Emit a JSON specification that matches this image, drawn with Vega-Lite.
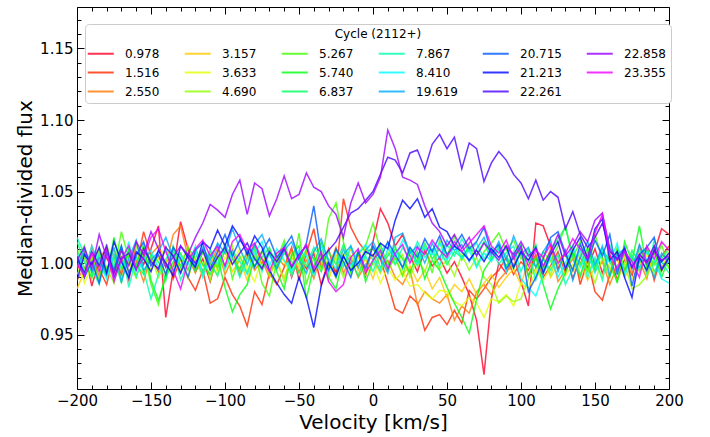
{
"$schema": "https://vega.github.io/schema/vega-lite/v6.json",
"width": 592, "height": 382,
"autosize": {"type": "none"},
"padding": {"left": 77, "top": 7, "right": 41, "bottom": 48},
"config": {"view": {"stroke": "black", "strokeWidth": 1}, "font": "DejaVu Sans",
  "axis": {"grid": false, "domain": false, "tickColor": "black", "labelColor": "black", "titleColor": "black", "labelFontSize": 15, "titleFontSize": 20, "titleFontWeight": "normal", "labelFlush": false, "labelOverlap": false}},
"data": {"values": [
{"v":-200,"a":0.995,"b":1.003,"c":0.988,"d":0.982,"e":1.006,"f":0.992,"g":1.010,"h":1.002,"i":1.015,"j":1.018,"k":1.008,"l":0.997,"m":1.005,"n":0.988,"o":1.004,"p":1.002,"q":1.000},
{"v":-195,"a":1.008,"b":0.990,"c":0.997,"d":0.994,"e":0.986,"f":1.004,"g":0.996,"h":1.012,"i":1.001,"j":1.006,"k":0.993,"l":1.010,"m":0.990,"n":1.006,"o":0.993,"p":1.011,"q":0.991},
{"v":-190,"a":0.984,"b":1.012,"c":1.005,"d":1.003,"e":0.998,"f":0.989,"g":1.004,"h":0.993,"i":0.990,"j":0.996,"k":1.012,"l":0.994,"m":1.001,"n":0.999,"o":1.008,"p":0.996,"q":1.007},
{"v":-185,"a":1.002,"b":0.996,"c":0.991,"d":1.009,"e":1.003,"f":1.011,"g":0.988,"h":1.000,"i":1.007,"j":0.985,"k":1.000,"l":1.004,"m":0.986,"n":1.011,"o":0.998,"p":1.020,"q":0.994},
{"v":-180,"a":1.011,"b":0.985,"c":1.004,"d":0.993,"e":0.992,"f":0.997,"g":1.013,"h":0.991,"i":0.996,"j":1.008,"k":0.989,"l":0.992,"m":1.008,"n":0.993,"o":1.012,"p":1.004,"q":1.009},
{"v":-175,"a":0.993,"b":1.006,"c":0.996,"d":1.002,"e":1.010,"f":0.986,"g":0.995,"h":1.018,"i":1.004,"j":0.998,"k":1.006,"l":1.011,"m":0.995,"n":1.015,"o":0.990,"p":0.993,"q":0.987},
{"v":-170,"a":1.004,"b":0.992,"c":1.010,"d":0.989,"e":0.997,"f":1.008,"g":1.022,"h":0.995,"i":0.986,"j":1.012,"k":0.997,"l":0.987,"m":1.012,"n":1.001,"o":1.003,"p":1.009,"q":1.003},
{"v":-165,"a":0.988,"b":1.009,"c":0.994,"d":1.006,"e":1.001,"f":0.999,"g":1.003,"h":1.009,"i":1.010,"j":0.983,"k":1.015,"l":1.003,"m":0.993,"n":0.990,"o":1.007,"p":0.998,"q":1.012},
{"v":-160,"a":1.014,"b":0.997,"c":1.002,"d":0.996,"e":0.990,"f":1.012,"g":0.990,"h":0.998,"i":0.999,"j":1.004,"k":0.991,"l":1.016,"m":1.005,"n":1.008,"o":0.995,"p":1.015,"q":0.996},
{"v":-155,"a":0.999,"b":1.022,"c":0.987,"d":1.011,"e":1.007,"f":0.993,"g":1.008,"h":1.013,"i":0.992,"j":0.995,"k":1.003,"l":0.995,"m":1.015,"n":1.003,"o":1.010,"p":1.006,"q":1.004},
{"v":-150,"a":1.010,"b":1.005,"c":1.006,"d":0.999,"e":0.995,"f":1.005,"g":0.985,"h":0.988,"i":1.006,"j":0.975,"k":1.009,"l":1.002,"m":0.998,"n":0.994,"o":1.001,"p":1.022,"q":1.018},
{"v":-145,"a":1.026,"b":0.994,"c":1.012,"d":1.004,"e":1.003,"f":0.990,"g":0.971,"h":0.974,"i":1.001,"j":0.992,"k":0.996,"l":1.008,"m":1.006,"n":1.009,"o":0.996,"p":1.010,"q":1.024},
{"v":-140,"a":0.962,"b":1.012,"c":0.998,"d":0.992,"e":1.011,"f":1.001,"g":0.993,"h":0.990,"i":0.988,"j":1.003,"k":1.011,"l":1.018,"m":0.992,"n":1.000,"o":1.011,"p":0.997,"q":1.008},
{"v":-135,"a":0.995,"b":0.989,"c":1.020,"d":1.007,"e":0.996,"f":1.009,"g":1.006,"h":1.001,"i":1.012,"j":1.010,"k":0.994,"l":1.004,"m":1.011,"n":0.991,"o":1.005,"p":1.004,"q":0.995},
{"v":-130,"a":1.029,"b":1.003,"c":1.026,"d":0.995,"e":1.002,"f":0.994,"g":0.998,"h":1.007,"i":0.997,"j":0.988,"k":1.005,"l":0.993,"m":1.003,"n":1.012,"o":0.993,"p":1.012,"q":0.982},
{"v":-125,"a":1.010,"b":0.990,"c":1.004,"d":1.012,"e":0.989,"f":1.004,"g":1.011,"h":0.995,"i":1.005,"j":1.001,"k":0.999,"l":1.006,"m":0.990,"n":1.004,"o":1.006,"p":1.006,"q":1.001},
{"v":-120,"a":0.994,"b":0.981,"c":0.993,"d":1.001,"e":1.006,"f":0.997,"g":1.003,"h":1.010,"i":0.994,"j":1.007,"k":1.012,"l":0.998,"m":1.009,"n":0.997,"o":1.000,"p":1.018,"q":1.010},
{"v":-115,"a":1.003,"b":0.995,"c":1.008,"d":0.991,"e":0.998,"f":1.010,"g":0.992,"h":0.999,"i":1.008,"j":0.994,"k":0.990,"l":1.011,"m":1.014,"n":1.015,"o":1.009,"p":1.028,"q":1.016},
{"v":-110,"a":0.987,"b":0.972,"c":0.999,"d":1.005,"e":1.009,"f":0.988,"g":1.009,"h":0.992,"i":1.000,"j":1.009,"k":1.004,"l":1.002,"m":0.996,"n":1.010,"o":0.995,"p":1.041,"q":1.005},
{"v":-105,"a":1.006,"b":0.975,"c":1.011,"d":0.997,"e":0.993,"f":1.006,"g":0.996,"h":1.004,"i":0.991,"j":0.999,"k":1.013,"l":1.014,"m":1.008,"n":1.023,"o":1.004,"p":1.037,"q":1.012},
{"v":-100,"a":0.998,"b":0.990,"c":0.992,"d":1.008,"e":1.004,"f":0.995,"g":1.014,"h":0.983,"i":1.010,"j":1.012,"k":0.996,"l":1.007,"m":1.020,"n":1.012,"o":1.011,"p":1.032,"q":0.998},
{"v":-95,"a":1.009,"b":0.978,"c":1.003,"d":0.994,"e":0.999,"f":1.012,"g":0.989,"h":0.966,"i":1.003,"j":1.005,"k":1.008,"l":1.024,"m":1.005,"n":1.026,"o":0.999,"p":1.048,"q":1.015},
{"v":-90,"a":0.992,"b":0.970,"c":0.996,"d":1.002,"e":1.010,"f":0.993,"g":1.005,"h":0.978,"i":0.995,"j":0.990,"k":1.001,"l":1.010,"m":1.016,"n":1.018,"o":1.007,"p":1.058,"q":1.020},
{"v":-85,"a":1.004,"b":0.956,"c":1.007,"d":0.988,"e":0.996,"f":1.004,"g":0.993,"h":0.985,"i":1.009,"j":1.003,"k":0.992,"l":0.999,"m":1.010,"n":1.006,"o":1.014,"p":1.034,"q":1.009},
{"v":-80,"a":1.013,"b":0.980,"c":0.995,"d":1.006,"e":0.987,"f":0.998,"g":1.010,"h":1.004,"i":0.998,"j":1.011,"k":1.007,"l":1.013,"m":0.997,"n":1.019,"o":1.003,"p":1.056,"q":1.014},
{"v":-75,"a":1.000,"b":0.971,"c":1.002,"d":0.996,"e":1.003,"f":1.009,"g":0.986,"h":0.997,"i":1.004,"j":0.994,"k":1.015,"l":1.020,"m":1.008,"n":1.011,"o":0.996,"p":1.052,"q":1.003},
{"v":-70,"a":1.008,"b":0.993,"c":0.990,"d":1.010,"e":0.994,"f":0.991,"g":0.977,"h":1.008,"i":1.011,"j":1.007,"k":0.998,"l":1.006,"m":1.017,"n":0.995,"o":1.008,"p":1.033,"q":0.994},
{"v":-65,"a":0.997,"b":0.985,"c":1.005,"d":0.999,"e":1.007,"f":1.003,"g":1.002,"h":0.994,"i":0.996,"j":1.000,"k":1.010,"l":0.996,"m":1.004,"n":0.986,"o":1.001,"p":1.045,"q":1.007},
{"v":-60,"a":1.012,"b":0.997,"c":0.998,"d":0.990,"e":1.001,"f":0.987,"g":1.016,"h":0.982,"i":1.007,"j":1.013,"k":1.002,"l":1.009,"m":1.011,"n":0.978,"o":1.010,"p":1.061,"q":1.011},
{"v":-55,"a":0.990,"b":1.011,"c":1.009,"d":1.004,"e":0.992,"f":1.006,"g":0.995,"h":1.006,"i":1.001,"j":0.991,"k":0.994,"l":1.015,"m":1.019,"n":0.972,"o":0.997,"p":1.045,"q":0.998},
{"v":-50,"a":1.005,"b":0.988,"c":0.994,"d":0.997,"e":1.005,"f":0.999,"g":1.021,"h":1.012,"i":0.993,"j":1.006,"k":1.009,"l":1.002,"m":1.003,"n":0.990,"o":1.006,"p":1.048,"q":1.005},
{"v":-45,"a":0.996,"b":1.007,"c":1.002,"d":1.008,"e":0.998,"f":1.010,"g":0.985,"h":0.975,"i":1.010,"j":0.998,"k":1.005,"l":0.993,"m":1.014,"n":0.976,"o":1.012,"p":1.063,"q":1.013},
{"v":-40,"a":1.007,"b":1.024,"c":0.989,"d":0.993,"e":1.010,"f":0.994,"g":1.004,"h":0.998,"i":1.003,"j":1.011,"k":0.991,"l":1.008,"m":1.040,"n":0.955,"o":0.994,"p":1.053,"q":0.996},
{"v":-35,"a":0.985,"b":0.996,"c":1.006,"d":1.003,"e":0.995,"f":1.007,"g":0.997,"h":1.015,"i":0.994,"j":1.004,"k":1.012,"l":1.017,"m":1.006,"n":0.984,"o":1.003,"p":1.050,"q":1.008},
{"v":-30,"a":1.002,"b":1.010,"c":0.997,"d":0.988,"e":1.003,"f":0.996,"g":1.031,"h":0.990,"i":1.008,"j":0.993,"k":1.003,"l":1.001,"m":0.995,"n":1.000,"o":1.009,"p":1.040,"q":0.987},
{"v":-25,"a":0.994,"b":0.990,"c":1.011,"d":1.006,"e":0.989,"f":1.004,"g":1.042,"h":0.982,"i":0.999,"j":1.009,"k":0.996,"l":0.990,"m":1.010,"n":0.991,"o":1.015,"p":1.034,"q":0.980},
{"v":-20,"a":1.010,"b":1.045,"c":0.993,"d":0.998,"e":1.007,"f":0.990,"g":1.015,"h":1.005,"i":1.013,"j":0.997,"k":1.010,"l":1.006,"m":1.001,"n":1.005,"o":1.025,"p":1.018,"q":0.985},
{"v":-15,"a":0.999,"b":1.025,"c":1.004,"d":1.010,"e":0.996,"f":1.005,"g":0.993,"h":0.994,"i":1.002,"j":1.012,"k":0.998,"l":1.012,"m":0.990,"n":0.995,"o":1.035,"p":1.042,"q":1.004},
{"v":-10,"a":1.006,"b":1.015,"c":0.990,"d":0.995,"e":1.004,"f":0.997,"g":1.006,"h":1.009,"i":0.991,"j":1.000,"k":1.007,"l":0.997,"m":1.008,"n":1.000,"o":1.038,"p":1.056,"q":1.010},
{"v":-5,"a":0.991,"b":1.008,"c":0.999,"d":1.003,"e":0.992,"f":1.011,"g":1.012,"h":0.987,"i":1.006,"j":1.005,"k":1.013,"l":1.009,"m":0.996,"n":1.008,"o":1.044,"p":1.042,"q":0.993},
{"v":0,"a":1.015,"b":1.010,"c":1.006,"d":0.989,"e":1.000,"f":1.002,"g":1.028,"h":1.001,"i":1.011,"j":0.994,"k":1.002,"l":1.015,"m":1.012,"n":1.005,"o":1.050,"p":1.048,"q":1.002},
{"v":5,"a":1.038,"b":1.003,"c":0.994,"d":1.007,"e":0.986,"f":0.993,"g":1.009,"h":1.013,"i":0.997,"j":1.008,"k":0.995,"l":1.004,"m":1.003,"n":1.014,"o":1.062,"p":1.060,"q":1.009},
{"v":10,"a":1.028,"b":0.986,"c":1.002,"d":0.996,"e":0.997,"f":1.008,"g":0.995,"h":0.998,"i":1.005,"j":1.014,"k":1.010,"l":0.993,"m":1.015,"n":1.010,"o":1.074,"p":1.093,"q":0.996},
{"v":15,"a":1.012,"b":0.968,"c":0.990,"d":1.004,"e":0.988,"f":0.999,"g":1.004,"h":1.010,"i":1.012,"j":0.999,"k":1.004,"l":1.018,"m":1.006,"n":1.030,"o":1.072,"p":1.080,"q":1.007},
{"v":20,"a":1.020,"b":0.965,"c":0.985,"d":0.992,"e":0.994,"f":1.006,"g":0.991,"h":1.003,"i":0.996,"j":1.011,"k":1.016,"l":1.021,"m":0.997,"n":1.044,"o":1.063,"p":1.060,"q":1.013},
{"v":25,"a":1.005,"b":0.977,"c":0.996,"d":0.998,"e":0.984,"f":0.990,"g":1.010,"h":0.993,"i":1.009,"j":1.002,"k":1.008,"l":1.007,"m":1.011,"n":1.038,"o":1.077,"p":1.058,"q":1.000},
{"v":30,"a":0.994,"b":0.972,"c":0.971,"d":0.987,"e":0.985,"f":1.003,"g":0.998,"h":1.008,"i":1.001,"j":1.015,"k":0.999,"l":1.012,"m":1.004,"n":1.045,"o":1.079,"p":1.055,"q":1.011},
{"v":35,"a":1.009,"b":0.953,"c":0.980,"d":0.995,"e":0.979,"f":0.994,"g":1.012,"h":0.989,"i":1.014,"j":1.004,"k":1.011,"l":1.000,"m":1.017,"n":1.032,"o":1.066,"p":1.040,"q":1.006},
{"v":40,"a":0.998,"b":0.962,"c":0.975,"d":0.982,"e":0.975,"f":1.008,"g":0.993,"h":1.002,"i":1.003,"j":1.010,"k":1.006,"l":1.014,"m":1.008,"n":1.038,"o":1.083,"p":1.028,"q":1.016},
{"v":45,"a":1.004,"b":0.964,"c":0.972,"d":0.990,"e":0.981,"f":0.996,"g":1.016,"h":0.995,"i":1.010,"j":0.998,"k":1.014,"l":1.003,"m":1.019,"n":1.025,"o":1.090,"p":1.022,"q":1.009},
{"v":50,"a":0.993,"b":0.957,"c":0.978,"d":0.976,"e":0.980,"f":1.002,"g":1.005,"h":0.983,"i":0.999,"j":1.013,"k":1.002,"l":1.016,"m":1.006,"n":1.022,"o":1.080,"p":1.012,"q":1.004},
{"v":55,"a":1.001,"b":0.967,"c":0.960,"d":0.985,"e":0.973,"f":0.991,"g":1.019,"h":0.972,"i":1.008,"j":1.005,"k":1.012,"l":1.009,"m":1.012,"n":1.012,"o":1.088,"p":1.020,"q":1.015},
{"v":60,"a":0.990,"b":0.958,"c":0.970,"d":0.980,"e":0.970,"f":1.006,"g":1.002,"h":0.962,"i":1.004,"j":1.017,"k":1.003,"l":1.013,"m":1.020,"n":1.008,"o":1.066,"p":1.010,"q":1.008},
{"v":65,"a":0.978,"b":0.981,"c":0.965,"d":0.989,"e":0.976,"f":0.995,"g":1.013,"h":0.951,"i":1.011,"j":1.008,"k":1.009,"l":1.001,"m":1.010,"n":1.002,"o":1.084,"p":1.018,"q":1.014},
{"v":70,"a":0.960,"b":0.975,"c":0.980,"d":0.978,"e":0.972,"f":1.004,"g":0.998,"h":0.975,"i":1.006,"j":1.014,"k":0.997,"l":1.010,"m":1.015,"n":1.009,"o":1.080,"p":1.005,"q":1.020},
{"v":75,"a":0.922,"b":0.982,"c":0.985,"d":0.986,"e":0.962,"f":0.990,"g":1.008,"h":0.995,"i":1.015,"j":1.003,"k":1.007,"l":1.018,"m":1.025,"n":1.001,"o":1.057,"p":1.014,"q":1.026},
{"v":80,"a":0.975,"b":0.990,"c":0.978,"d":0.992,"e":0.975,"f":0.985,"g":1.014,"h":1.003,"i":1.002,"j":1.011,"k":1.001,"l":1.005,"m":1.007,"n":1.010,"o":1.070,"p":1.008,"q":1.012},
{"v":85,"a":1.000,"b":0.995,"c":0.988,"d":0.983,"e":0.973,"f":0.972,"g":1.021,"h":1.010,"i":1.012,"j":0.999,"k":1.010,"l":1.015,"m":1.013,"n":1.004,"o":1.078,"p":1.002,"q":1.007},
{"v":90,"a":0.993,"b":1.004,"c":0.994,"d":0.990,"e":0.978,"f":0.977,"g":1.009,"h":0.998,"i":1.005,"j":1.007,"k":0.994,"l":1.002,"m":0.996,"n":1.012,"o":1.072,"p":1.012,"q":1.016},
{"v":95,"a":1.006,"b":0.992,"c":0.999,"d":0.996,"e":0.970,"f":0.973,"g":1.016,"h":1.006,"i":0.996,"j":1.012,"k":1.008,"l":1.019,"m":1.004,"n":0.997,"o":1.062,"p":1.006,"q":1.003},
{"v":100,"a":0.987,"b":1.001,"c":1.007,"d":0.985,"e":0.986,"f":0.975,"g":1.003,"h":1.013,"i":1.010,"j":0.994,"k":0.989,"l":1.006,"m":1.012,"n":1.008,"o":1.056,"p":1.015,"q":1.011},
{"v":105,"a":0.970,"b":0.995,"c":0.991,"d":1.002,"e":0.982,"f":0.989,"g":1.010,"h":0.991,"i":1.001,"j":1.008,"k":0.983,"l":1.011,"m":0.980,"n":1.002,"o":1.045,"p":1.005,"q":0.998},
{"v":110,"a":1.028,"b":1.006,"c":1.004,"d":0.993,"e":0.994,"f":0.996,"g":0.997,"h":1.004,"i":1.013,"j":0.988,"k":0.977,"l":0.997,"m":0.990,"n":1.011,"o":1.058,"p":1.010,"q":1.009},
{"v":115,"a":1.026,"b":0.990,"c":0.996,"d":1.005,"e":0.988,"f":1.003,"g":1.008,"h":0.985,"i":0.994,"j":1.003,"k":0.992,"l":1.008,"m":1.003,"n":0.993,"o":1.044,"p":0.998,"q":1.004},
{"v":120,"a":1.012,"b":0.998,"c":1.010,"d":0.990,"e":0.997,"f":0.992,"g":1.001,"h":0.968,"i":1.008,"j":0.995,"k":1.004,"l":1.016,"m":1.018,"n":1.006,"o":1.050,"p":1.008,"q":1.013},
{"v":125,"a":0.996,"b":1.008,"c":0.987,"d":0.999,"e":1.003,"f":1.005,"g":1.012,"h":0.982,"i":1.017,"j":1.006,"k":0.990,"l":0.994,"m":1.022,"n":1.015,"o":1.046,"p":1.020,"q":1.000},
{"v":130,"a":1.008,"b":0.993,"c":0.995,"d":1.006,"e":0.991,"f":0.998,"g":1.026,"h":0.993,"i":1.025,"j":0.985,"k":1.000,"l":1.009,"m":1.007,"n":0.996,"o":1.024,"p":1.005,"q":1.007},
{"v":135,"a":0.989,"b":1.011,"c":1.003,"d":0.994,"e":0.999,"f":1.009,"g":1.004,"h":1.007,"i":1.004,"j":0.996,"k":1.012,"l":0.988,"m":0.995,"n":1.009,"o":1.036,"p":1.012,"q":1.017},
{"v":140,"a":1.004,"b":0.985,"c":0.990,"d":1.001,"e":1.006,"f":0.992,"g":1.015,"h":0.999,"i":0.991,"j":1.009,"k":0.997,"l":1.004,"m":1.013,"n":1.018,"o":1.020,"p":1.022,"q":1.010},
{"v":145,"a":0.997,"b":1.002,"c":1.008,"d":0.988,"e":0.994,"f":1.001,"g":0.993,"h":1.011,"i":1.007,"j":0.990,"k":1.006,"l":1.015,"m":1.001,"n":1.003,"o":1.011,"p":1.015,"q":1.003},
{"v":150,"a":1.010,"b":0.980,"c":0.994,"d":0.997,"e":1.002,"f":0.986,"g":1.020,"h":0.995,"i":0.998,"j":1.004,"k":0.993,"l":0.999,"m":1.016,"n":1.024,"o":1.018,"p":1.030,"q":1.021},
{"v":155,"a":0.993,"b":0.974,"c":1.001,"d":1.009,"e":0.990,"f":1.004,"g":1.003,"h":1.008,"i":1.010,"j":0.988,"k":1.009,"l":1.012,"m":1.005,"n":1.031,"o":1.028,"p":1.035,"q":1.034},
{"v":160,"a":1.006,"b":0.992,"c":0.985,"d":0.995,"e":1.008,"f":0.997,"g":0.990,"h":1.002,"i":1.001,"j":1.013,"k":1.000,"l":0.991,"m":1.020,"n":1.002,"o":1.008,"p":1.010,"q":1.006},
{"v":165,"a":0.988,"b":1.009,"c":0.998,"d":1.003,"e":0.996,"f":0.988,"g":1.011,"h":0.986,"i":1.006,"j":0.995,"k":1.014,"l":1.006,"m":0.992,"n":1.008,"o":1.003,"p":1.002,"q":0.996},
{"v":170,"a":1.003,"b":0.995,"c":1.006,"d":0.990,"e":1.004,"f":1.000,"g":0.996,"h":1.015,"i":0.993,"j":1.007,"k":0.991,"l":1.010,"m":1.012,"n":0.990,"o":1.010,"p":1.008,"q":1.008},
{"v":175,"a":0.991,"b":1.004,"c":0.993,"d":0.998,"e":0.989,"f":0.982,"g":1.006,"h":1.001,"i":1.009,"j":0.998,"k":1.005,"l":0.996,"m":0.984,"n":0.976,"o":0.997,"p":0.997,"q":1.001},
{"v":180,"a":1.012,"b":0.997,"c":1.002,"d":1.007,"e":0.999,"f":0.985,"g":0.994,"h":1.026,"i":1.000,"j":1.010,"k":0.996,"l":1.013,"m":1.006,"n":1.004,"o":1.006,"p":1.006,"q":0.990},
{"v":185,"a":0.998,"b":1.010,"c":0.989,"d":0.993,"e":1.006,"f":0.991,"g":1.009,"h":0.997,"i":1.012,"j":0.992,"k":1.008,"l":1.002,"m":1.011,"n":0.995,"o":1.001,"p":1.000,"q":1.012},
{"v":190,"a":1.007,"b":0.988,"c":1.011,"d":1.001,"e":0.992,"f":1.002,"g":0.999,"h":1.008,"i":0.994,"j":1.016,"k":1.002,"l":0.990,"m":1.018,"n":1.009,"o":1.012,"p":1.008,"q":1.003},
{"v":195,"a":1.024,"b":1.005,"c":0.995,"d":0.996,"e":1.003,"f":0.994,"g":1.013,"h":0.990,"i":1.003,"j":1.001,"k":0.989,"l":1.007,"m":0.996,"n":1.001,"o":0.995,"p":1.002,"q":1.015},
{"v":200,"a":1.020,"b":1.012,"c":1.004,"d":1.008,"e":0.997,"f":1.005,"g":0.996,"h":1.004,"i":1.010,"j":0.993,"k":0.986,"l":1.000,"m":1.004,"n":1.007,"o":1.004,"p":1.005,"q":1.009}
]},
"transform": [{"fold": ["a","b","c","d","e","f","g","h","i","j","k","l","m","n","o","p","q"], "as": ["cycle", "flux"]}],
"layer": [
 {"mark": {"type": "line", "strokeWidth": 1.5, "strokeOpacity": 0.8, "clip": true},
  "encoding": {
   "x": {"field": "v", "type": "quantitative", "scale": {"domain": [-200, 200], "nice": false, "zero": false},
     "axis": {"orient": "bottom", "values": [-200,-150,-100,-50,0,50,100,150,200], "tickSize": -7, "labelPadding": 11, "title": "Velocity [km/s]", "titlePadding": 4}},
   "y": {"field": "flux", "type": "quantitative", "scale": {"domain": [0.912, 1.179], "nice": false, "zero": false},
     "axis": {"orient": "left", "values": [0.95, 1.0, 1.05, 1.1, 1.15], "format": ".2f", "tickSize": -7, "labelPadding": 11, "title": "Median-divided flux", "titlePadding": 4}},
   "color": {"field": "cycle", "type": "nominal",
     "scale": {"domain": ["a","b","c","d","e","f","g","h","i","j","k","l","m","n","o","p","q"],
               "range": ["#ff0029","#ff2800","#ff7900","#ffca00","#e3ff00","#92ff00","#41ff00","#00ff10","#00ff61","#00ffb1","#00fcff","#00aaff","#0059ff","#0007ff","#4a00ff","#9c00ff","#ed00ff"]},
     "legend": {"orient": "none", "legendX": 8, "legendY": 17, "columns": 6, "title": "Cycle (2112+)", "titleAnchor": "middle", "titleFontSize": 12, "titleFontWeight": "normal", "titleColor": "black", "titlePadding": 5,
       "labelFontSize": 12, "labelColor": "black", "symbolType": "M-1.5,0H2.5", "symbolSize": 169, "symbolStrokeWidth": 2, "symbolOpacity": 0.8, "labelOffset": 20, "columnPadding": 20, "rowPadding": 5, "padding": 5, "fillColor": "white", "strokeColor": "#cccccc", "cornerRadius": 4, "gridAlign": "each",
       "labelExpr": "{'a':'0.978','b':'1.516','c':'2.550','d':'3.157','e':'3.633','f':'4.690','g':'5.267','h':'5.740','i':'6.837','j':'7.867','k':'8.410','l':'19.619','m':'20.715','n':'21.213','o':'22.261','p':'22.858','q':'23.355'}[datum.label]"}}
  }},
 {"mark": {"type": "point", "opacity": 0},
  "encoding": {
   "x": {"field": "v", "type": "quantitative", "axis": {"orient": "bottom", "values": [-190,-180,-170,-160,-140,-130,-120,-110,-90,-80,-70,-60,-40,-30,-20,-10,10,20,30,40,60,70,80,90,110,120,130,140,160,170,180,190], "tickSize": -4, "labels": false, "title": null}},
   "y": {"field": "flux", "type": "quantitative", "axis": {"orient": "left", "values": [0.92,0.93,0.94,0.96,0.97,0.98,0.99,1.01,1.02,1.03,1.04,1.06,1.07,1.08,1.09,1.11,1.12,1.13,1.14,1.16,1.17], "tickSize": -4, "labels": false, "title": null}}
  }},
 {"mark": {"type": "point", "opacity": 0},
  "encoding": {
   "x": {"field": "v", "type": "quantitative", "axis": {"orient": "top", "values": [-200,-150,-100,-50,0,50,100,150,200], "tickSize": -7, "labels": false, "title": null}},
   "y": {"field": "flux", "type": "quantitative", "axis": {"orient": "right", "values": [0.95, 1.0, 1.05, 1.1, 1.15], "tickSize": -7, "labels": false, "title": null}}
  }},
 {"mark": {"type": "point", "opacity": 0},
  "encoding": {
   "x": {"field": "v", "type": "quantitative", "axis": {"orient": "top", "values": [-190,-180,-170,-160,-140,-130,-120,-110,-90,-80,-70,-60,-40,-30,-20,-10,10,20,30,40,60,70,80,90,110,120,130,140,160,170,180,190], "tickSize": -4, "labels": false, "title": null}},
   "y": {"field": "flux", "type": "quantitative", "axis": {"orient": "right", "values": [0.92,0.93,0.94,0.96,0.97,0.98,0.99,1.01,1.02,1.03,1.04,1.06,1.07,1.08,1.09,1.11,1.12,1.13,1.14,1.16,1.17], "tickSize": -4, "labels": false, "title": null}}
  }}
],
"resolve": {"axis": {"x": "independent", "y": "independent"}}
}
